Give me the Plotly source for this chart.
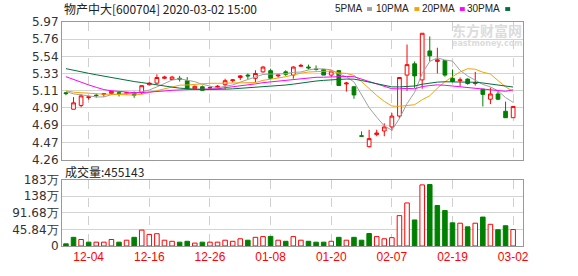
import plotly.graph_objects as go

# ---- data ----
dates = ["11-29",
         "12-02", "12-03", "12-04", "12-05", "12-06", "12-09", "12-10", "12-11", "12-12", "12-13",
         "12-16", "12-17", "12-18", "12-19", "12-20", "12-23", "12-24", "12-25", "12-26", "12-27",
         "12-30", "12-31",
         "01-02", "01-03", "01-06", "01-07", "01-08", "01-09", "01-10", "01-13", "01-14", "01-15",
         "01-16", "01-17", "01-20", "01-21", "01-22", "01-23",
         "02-03", "02-04", "02-05", "02-06", "02-07", "02-10", "02-11", "02-12", "02-13", "02-14",
         "02-17", "02-18", "02-19", "02-20", "02-21", "02-24", "02-25", "02-26", "02-27", "02-28",
         "03-02"]

opens = [5.09, 4.885, 4.933, 5.03, 5.06, 5.07, 5.083, 5.09, 5.08, 5.09,
         5.09, 5.19, 5.21, 5.27, 5.255, 5.27, 5.24, 5.14, 5.165, 5.15,
         5.16, 5.19, 5.24, 5.28, 5.31, 5.27, 5.35, 5.365, 5.30, 5.35,
         5.31, 5.42, 5.41, 5.385, 5.38, 5.31, 5.365, 5.20, 5.165, 4.555,
         4.42, 4.57, 4.615, 4.665, 4.80, 5.31, 5.45, 5.25, 5.61, 5.48,
         5.49, 5.27, 5.24, 5.26, 5.205, 5.135, 5.01, 5.075, 4.86, 4.78]
highs = [5.10, 5.036, 5.075, 5.052, 5.08, 5.085, 5.115, 5.107, 5.10, 5.107,
         5.186, 5.22, 5.32, 5.30, 5.30, 5.30, 5.285, 5.18, 5.18, 5.17,
         5.185, 5.265, 5.26, 5.31, 5.33, 5.37, 5.42, 5.39, 5.315, 5.37,
         5.42, 5.45, 5.44, 5.43, 5.38, 5.365, 5.37, 5.225, 5.17, 4.61,
         4.63, 4.63, 4.71, 4.84, 5.28, 5.69, 5.48, 5.83, 5.79, 5.65,
         5.49, 5.38, 5.28, 5.27, 5.35, 5.135, 5.155, 5.11, 4.98, 4.92]
lows = [5.06, 4.885, 4.909, 5.004, 5.03, 5.04, 5.067, 5.044, 5.07, 5.027,
        5.075, 5.18, 5.19, 5.26, 5.25, 5.23, 5.13, 5.13, 5.12, 5.14,
        5.15, 5.135, 5.22, 5.25, 5.26, 5.22, 5.34, 5.26, 5.28, 5.30,
        5.265, 5.41, 5.38, 5.365, 5.31, 5.29, 5.18, 5.105, 5.015, 4.55,
        4.41, 4.55, 4.55, 4.62, 4.77, 5.115, 5.15, 5.14, 5.48, 5.33,
        5.29, 5.22, 5.17, 5.19, 5.18, 4.92, 4.95, 5.00, 4.78, 4.78]
closes = [5.08, 4.965, 5.052, 5.04, 5.055, 5.08, 5.107, 5.083, 5.09, 5.06,
          5.178, 5.21, 5.28, 5.285, 5.285, 5.26, 5.14, 5.17, 5.12, 5.155,
          5.17, 5.24, 5.25, 5.30, 5.30, 5.33, 5.41, 5.27, 5.31, 5.32,
          5.41, 5.43, 5.40, 5.38, 5.31, 5.36, 5.18, 5.21, 5.063, 4.55,
          4.52, 4.59, 4.665, 4.80, 5.28, 5.44, 5.30, 5.83, 5.55, 5.50,
          5.31, 5.23, 5.25, 5.205, 5.215, 5.07, 5.075, 5.01, 4.78, 4.92]
# closes before the window (estimated so the moving averages start where the reference shows)
prior_closes = [5.62, 5.60, 5.58, 5.60, 5.62, 5.58, 5.56, 5.60, 5.58, 5.56,
                5.70, 5.72, 5.68, 5.66, 5.64, 5.40, 5.30, 5.22, 5.18, 5.15,
                5.14, 5.12, 5.13, 5.11, 5.115, 5.12, 5.11, 5.10, 5.125]

volume_wan = [6, 24, 18, 10.6, 10.6, 10.6, 18, 10.6, 16, 24,
              44, 32, 34, 16, 13, 10.6, 13, 8, 10.6, 10.6,
              10.6, 16, 13, 20, 16, 24, 26, 26.6, 16, 13,
              26, 16, 13, 10.6, 10.6, 13, 24, 16, 24, 16,
              34.5, 26, 20, 23, 84, 119, 72, 169, 170, 112,
              98, 64, 63, 53, 63, 80, 60, 45, 56, 45.5]
volume_up = [0, 0, 1, 0, 1, 1, 1, 0, 1, 0,
             1, 1, 1, 1, 1, 0, 0, 1, 0, 1,
             1, 1, 1, 1, 0, 1, 1, 0, 1, 0,
             1, 1, 0, 0, 0, 1, 0, 1, 0, 0,
             0, 1, 1, 1, 1, 1, 0, 1, 0, 0,
             0, 0, 1, 0, 1, 0, 1, 0, 0, 1]

tick_dates = ["12-04", "12-16", "12-26", "01-08", "01-20", "02-07", "02-19", "03-02"]
price_ticks = [4.26, 4.47375, 4.6875, 4.90125, 5.115, 5.32875, 5.5425, 5.75625, 5.97]
price_labels = ["4.26", "4.47", "4.69", "4.90", "5.11", "5.33", "5.54", "5.76", "5.97"]
vol_ticks = [0, 45.84, 91.68, 137.52, 183.36]
vol_labels = ["0", "45.84万", "91.68万", "138万", "183万"]
ma_periods = [5, 10, 20, 30]
ma_names = ["5PMA", "10PMA", "20PMA", "30PMA"]
ma_colors = ["#a0a0a0", "#f5a300", "#ff00ff", "#00703a"]

RED = "#ff0000"
GREEN = "#008000"

fig = go.Figure()

fig.add_trace(go.Candlestick(
    x=dates, open=opens, high=highs, low=lows, close=closes,
    increasing=dict(line=dict(color=RED, width=1), fillcolor="#ffffff"),
    decreasing=dict(line=dict(color=GREEN, width=1), fillcolor=GREEN),
    whiskerwidth=0, showlegend=False, hoverinfo="skip",
    xaxis="x", yaxis="y"))

allc = prior_closes + closes
n0 = len(prior_closes)
for p, name, col in zip(ma_periods, ma_names, ma_colors):
    ma = [sum(allc[n0 + i - p + 1:n0 + i + 1]) / p for i in range(len(closes))]
    fig.add_trace(go.Scatter(x=dates, y=ma, mode="lines", line=dict(color=col, width=1),
                             showlegend=False, hoverinfo="skip", xaxis="x", yaxis="y"))

fig.add_trace(go.Bar(
    x=dates, y=volume_wan, width=0.6,
    marker=dict(color=["#ffffff" if u else GREEN for u in volume_up],
                line=dict(color=[RED if u else GREEN for u in volume_up], width=1)),
    showlegend=False, hoverinfo="skip", xaxis="x2", yaxis="y2"))

xr = [-0.52, 60.3]
axis_common = dict(type="category", range=xr, tickmode="array", tickvals=tick_dates,
                   showgrid=True, gridcolor="#cfcfcf", griddash="dash", gridwidth=1,
                   showline=True, mirror=True, linecolor="#999999", linewidth=1,
                   ticks="", zeroline=False, fixedrange=True)

fig.update_layout(
    width=578, height=276,
    margin=dict(l=56, r=55, t=22, b=21),
    paper_bgcolor="#ffffff", plot_bgcolor="#ffffff",
    showlegend=False,
    xaxis=dict(**axis_common, anchor="y", showticklabels=False, rangeslider=dict(visible=False)),
    xaxis2=dict(**axis_common, anchor="y2", showticklabels=True,
                tickfont=dict(family="Liberation Sans", size=12, color=RED)),
    yaxis=dict(domain=[0.386, 1], range=[4.26, 5.97], tickmode="array",
               tickvals=price_ticks, ticktext=price_labels,
               showgrid=True, gridcolor="#d3d3d3", gridwidth=1,
               showline=True, mirror=True, linecolor="#999999", linewidth=1,
               ticks="", zeroline=False,
               tickfont=dict(family="DejaVu Sans", size=12, color="#333333")),
    yaxis2=dict(domain=[0, 0.296], range=[0, 183.36], tickmode="array",
                tickvals=vol_ticks, ticktext=vol_labels,
                showgrid=True, gridcolor="#d3d3d3", gridwidth=1,
                showline=True, mirror=True, linecolor="#999999", linewidth=1,
                ticks="", zeroline=False,
                tickfont=dict(family="DejaVu Sans", size=12, color="#333333")),
)

def px_x(x):
    return (x - 56) / 467

def px_y(y):
    return (255 - y) / 233

ann = []
shapes = []
ann.append(dict(text="物产中大[600704] 2020-03-02 15:00", x=0, y=px_y(8), xref="paper", yref="paper",
                xanchor="left", yanchor="middle", showarrow=False,
                font=dict(family="Noto Sans CJK SC", size=12, color="#222222")))
ann.append(dict(text="成交量:455143", x=px_x(57), y=px_y(177), xref="paper", yref="paper",
                xanchor="left", yanchor="middle", showarrow=False,
                font=dict(family="Noto Sans CJK SC", size=12, color="#222222")))
legend_text_right = [362, 409, 455, 501]
legend_mark_left = [365, 413, 459, 505]
for tx, mx, name, col in zip(legend_text_right, legend_mark_left, ma_names, ma_colors):
    ann.append(dict(text=name, x=px_x(tx), y=px_y(8), xref="paper", yref="paper",
                    xanchor="right", yanchor="middle", showarrow=False, borderpad=0,
                    font=dict(family="Liberation Sans", size=10, color="#222222")))
    shapes.append(dict(type="rect", xref="paper", yref="paper",
                       x0=px_x(mx), x1=px_x(mx + 5), y0=px_y(10.5), y1=px_y(6.5),
                       fillcolor=col, line=dict(width=0)))
ann.append(dict(text="<b>东方财富网</b>", x=px_x(487), y=px_y(30), xref="paper", yref="paper",
                xanchor="center", yanchor="middle", showarrow=False,
                font=dict(family="Noto Sans CJK SC", size=14, color="#dcdcdc")))
ann.append(dict(text="<b>eastmoney.com</b>", x=px_x(487), y=px_y(44.5), xref="paper", yref="paper",
                xanchor="center", yanchor="middle", showarrow=False,
                font=dict(family="DejaVu Sans", size=8, color="#dcdcdc")))
fig.update_layout(annotations=ann, shapes=shapes)

fig.write_html("out.html")
